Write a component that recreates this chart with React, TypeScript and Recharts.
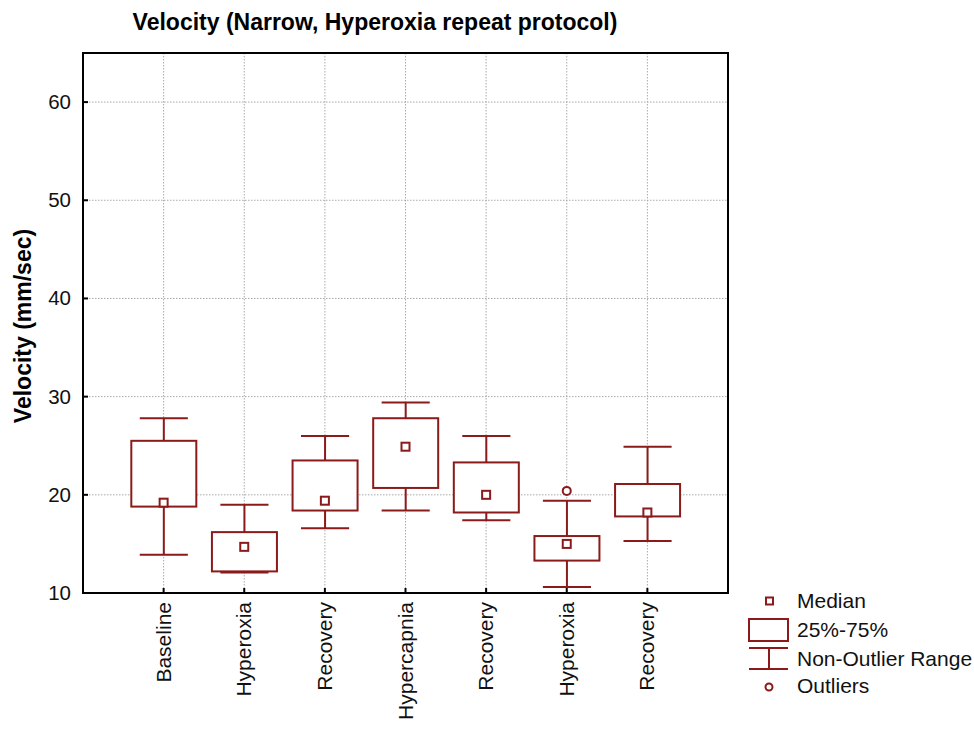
import React from 'react';
import {
  ComposedChart, Bar, Scatter, XAxis, YAxis, CartesianGrid, ReferenceArea,
} from 'recharts';

const FONT = '"Liberation Sans", Arial, sans-serif';
const RED = '#8B1A1A';

const categories = ['Baseline', 'Hyperoxia', 'Recovery', 'Hypercapnia', 'Recovery', 'Hyperoxia', 'Recovery'];
const whiskerLow = [13.9, 12.1, 16.6, 18.4, 17.4, 10.6, 15.3];
const q1 = [18.8, 12.2, 18.4, 20.7, 18.2, 13.3, 17.8];
const medians = [19.2, 14.7, 19.4, 24.9, 20.0, 15.0, 18.2];
const q3 = [25.5, 16.2, 23.5, 27.8, 23.3, 15.8, 21.1];
const whiskerHigh = [27.8, 19.0, 26.0, 29.4, 26.0, 19.4, 24.9];

// outliers: category position (1-based) and value
const outlierPos = [6];
const outlierVals = [20.4];

const yTicks = [10, 20, 30, 40, 50, 60];
const xTicks = categories.map((_, i) => i + 1);

const rows = categories.map((name, i) => ({
  x: i + 1,
  name,
  lo: whiskerLow[i],
  q1: q1[i],
  median: medians[i],
  q3: q3[i],
  hi: whiskerHigh[i],
}));

const outlierRows = outlierPos.map((x, i) => ({ x, outlier: outlierVals[i] }));

// Bar spans the whisker range; box and caps are placed inside it
const BoxShape = (props: any) => {
  const { x, y, width, height, payload } = props;
  const top = Math.min(y, y + height);
  const h = Math.abs(height);
  const span = payload.hi - payload.lo;
  const toPx = (v: number) => top + ((payload.hi - v) / span) * h;
  const cx = x + width / 2;
  const cap = width * 0.37;
  const yHi = toPx(payload.hi);
  const yLo = toPx(payload.lo);
  const yQ3 = toPx(payload.q3);
  const yQ1 = toPx(payload.q1);
  return (
    <g stroke={RED} strokeWidth={2} fill="none">
      <line x1={cx} x2={cx} y1={yHi} y2={yQ3} />
      <line x1={cx} x2={cx} y1={yQ1} y2={yLo} />
      <line x1={cx - cap} x2={cx + cap} y1={yHi} y2={yHi} />
      <line x1={cx - cap} x2={cx + cap} y1={yLo} y2={yLo} />
      <rect x={x} y={yQ3} width={width} height={yQ1 - yQ3} fill="#fff" />
    </g>
  );
};

const MedianShape = (props: any) => {
  const { cx, cy } = props;
  return <rect x={cx - 4} y={cy - 4} width={8} height={8} fill="#fff" stroke={RED} strokeWidth={2} />;
};

const OutlierShape = (props: any) => {
  const { cx, cy } = props;
  return <circle cx={cx} cy={cy} r={4} fill="#fff" stroke={RED} strokeWidth={2} />;
};

const CategoryTick = (props: any) => {
  const { x, y, payload } = props;
  const label = categories[payload.value - 1] ?? '';
  return (
    <text
      transform={`translate(${x + 7},${y + 12}) rotate(-90)`}
      textAnchor="end"
      fontSize={21}
      fontFamily={FONT}
      fill="#111"
    >
      {label}
    </text>
  );
};

const ValueTick = (props: any) => {
  const { x, y, payload } = props;
  return (
    <text x={x} y={y} dy={7} textAnchor="end" fontSize={20.5} fontFamily={FONT} fill="#111">
      {payload.value}
    </text>
  );
};

export default function App() {
  const frame = { stroke: '#000', strokeWidth: 2 };
  return (
    <div style={{ position: 'absolute', left: 0, top: 0, width: 974, height: 731, background: '#fff' }}>
      <ComposedChart
        width={974}
        height={731}
        data={rows}
        margin={{ top: 53, right: 246, bottom: 0, left: 0 }}
      >
        <CartesianGrid stroke="#aaa" strokeDasharray="1.5 1.5" />
        <XAxis
          dataKey="x"
          type="number"
          domain={[0, 8]}
          ticks={xTicks}
          interval={0}
          height={138}
          tick={<CategoryTick />}
          tickSize={-5}
          tickLine={{ stroke: '#000', strokeWidth: 2 }}
          axisLine={false}
          allowDataOverflow
        />
        <XAxis
          xAxisId="top"
          orientation="top"
          dataKey="x"
          type="number"
          domain={[0, 8]}
          ticks={xTicks}
          height={0}
          tick={false}
          tickSize={-5}
          tickLine={{ stroke: '#000', strokeWidth: 2 }}
          axisLine={false}
          allowDataOverflow
        />
        <YAxis
          type="number"
          domain={[10, 65]}
          ticks={yTicks}
          interval={0}
          width={83}
          tick={<ValueTick />}
          tickSize={-5}
          tickMargin={17}
          tickLine={{ stroke: '#000', strokeWidth: 2 }}
          axisLine={false}
          allowDataOverflow
        />
        <YAxis
          yAxisId="right"
          orientation="right"
          type="number"
          domain={[10, 65]}
          ticks={yTicks}
          width={0}
          tick={false}
          tickSize={-5}
          tickLine={{ stroke: '#000', strokeWidth: 2 }}
          axisLine={false}
          allowDataOverflow
        />
        <Bar
          dataKey={(d: any) => [d.lo, d.hi]}
          barSize={65}
          shape={<BoxShape />}
          isAnimationActive={false}
        />
        <Scatter dataKey="median" shape={<MedianShape />} isAnimationActive={false} />
        <Scatter data={outlierRows} dataKey="outlier" shape={<OutlierShape />} isAnimationActive={false} />
        <ReferenceArea x1={0} x2={8} y1={10} y2={65} fill="none" {...frame} />
      </ComposedChart>

      <svg
        width={974}
        height={731}
        style={{ position: 'absolute', left: 0, top: 0, pointerEvents: 'none' }}
        fontFamily={FONT}
      >
        <text x={375} y={30} textAnchor="middle" fontSize={23} fontWeight="bold" fill="#000">
          Velocity (Narrow, Hyperoxia repeat protocol)
        </text>
        <text
          transform="translate(31,326) rotate(-90)"
          textAnchor="middle"
          fontSize={23}
          fontWeight="bold"
          fill="#000"
        >
          Velocity (mm/sec)
        </text>

        <g stroke={RED} strokeWidth={2} fill="none">
          <rect x={766} y={597.5} width={7} height={7} />
          <rect x={749} y={619} width={39} height={22} />
          <line x1={749} x2={788} y1={648} y2={648} />
          <line x1={769} x2={769} y1={648} y2={669} />
          <line x1={749} x2={788} y1={669} y2={669} />
          <circle cx={769} cy={687} r={3.5} />
        </g>
        <g fontSize={21} fill="#111">
          <text x={797} y={608}>Median</text>
          <text x={797} y={637}>25%-75%</text>
          <text x={797} y={666}>Non-Outlier Range</text>
          <text x={797} y={693}>Outliers</text>
        </g>
      </svg>
    </div>
  );
}
